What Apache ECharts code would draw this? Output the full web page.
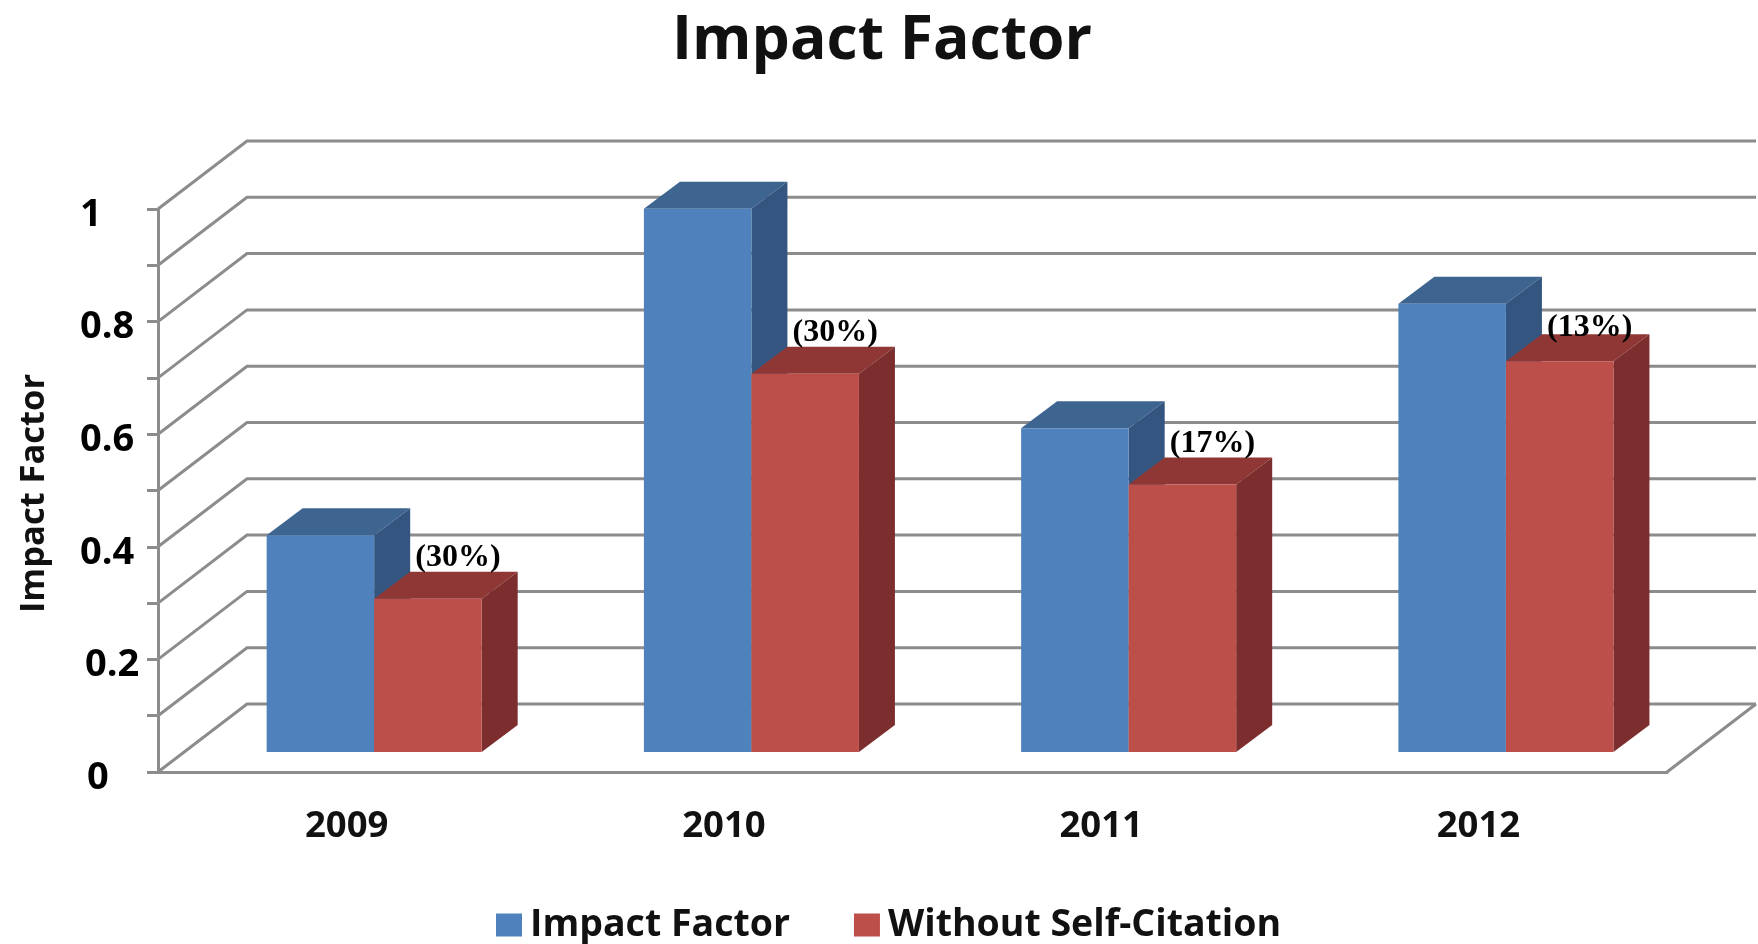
<!DOCTYPE html>
<html>
<head>
<meta charset="utf-8">
<title>Impact Factor</title>
<script src="https://cdn.jsdelivr.net/npm/echarts@6/dist/echarts.min.js"></script>
<style>
  html, body { margin: 0; padding: 0; background: #fff; }
  #chart { width: 1758px; height: 944px; }
</style>
</head>
<body>
<div id="chart"></div>
<script>
const years = ["2009", "2010", "2011", "2012"];
const impactFactor = [0.385, 0.965, 0.575, 0.796];
const withoutSelfCitation = [0.272, 0.672, 0.475, 0.694];
const dropLabels = ["(30%)", "(30%)", "(17%)", "(13%)"];
const gridTicks = [0, 0.1, 0.2, 0.3, 0.4, 0.5, 0.6, 0.7, 0.8, 0.9, 1];
const labelledTicks = [0, 0.2, 0.4, 0.6, 0.8, 1];

const FONT = '"Open Sans", sans-serif';
const LINE = "#8c8c8c";
// 3d look: how far the walls go back, and how the bars sit on the floor
const WALL_DX = 89;
const WALL_DY = -68;
const BAR_DX = 36;
const BAR_DY = -27;
const BAR_LIFT = 20;
const BAR_WIDTH = 0.285; // share of a category
const BAR_SHIFT = 0.073; // pair is not centered on the category
const DROP_LABEL_DY = [-41, -41, -41, -34]; // last one sits lower in the original

const BLUE = { front: "#4f81bd", top: "#3e6490", side: "#33557f" };
const RED = { front: "#bd4f4b", top: "#8f3735", side: "#7c2e2e" };

// back wall + left wall line for one tick
function renderWallLine(params, api) {
  const sys = params.coordSys;
  const y = api.coord([0, api.value(0)])[1];
  return {
    type: "polyline",
    shape: {
      points: [
        [sys.x, y],
        [sys.x + WALL_DX, y + WALL_DY],
        [sys.x + sys.width + WALL_DX, y + WALL_DY],
      ],
    },
    style: { stroke: LINE, lineWidth: 3, fill: null },
    silent: true,
  };
}

// floor right edge
function renderFloorEdge(params) {
  const sys = params.coordSys;
  const y = sys.y + sys.height;
  return {
    type: "line",
    shape: { x1: sys.x + sys.width, y1: y, x2: sys.x + sys.width + WALL_DX, y2: y + WALL_DY },
    style: { stroke: LINE, lineWidth: 3 },
    silent: true,
  };
}

function makeBarRenderer(faces, slot, labels) {
  return function (params, api) {
    const cat = api.value(0);
    const top = api.coord([cat, api.value(1)]);
    const base = api.coord([cat, 0]);
    const band = api.size([1, 0])[0];
    const w = band * BAR_WIDTH;
    const x0 = base[0] + band * BAR_SHIFT + (slot - 1) * w;
    const x1 = x0 + w;
    const y0 = top[1] - BAR_LIFT;
    const y1 = base[1] - BAR_LIFT;
    const children = [
      {
        type: "polygon",
        shape: { points: [[x0, y0], [x0 + BAR_DX, y0 + BAR_DY], [x1 + BAR_DX, y0 + BAR_DY], [x1, y0]] },
        style: { fill: faces.top },
      },
      {
        type: "polygon",
        shape: { points: [[x1, y0], [x1 + BAR_DX, y0 + BAR_DY], [x1 + BAR_DX, y1 + BAR_DY], [x1, y1]] },
        style: { fill: faces.side },
      },
      {
        type: "rect",
        shape: { x: x0, y: y0, width: w, height: y1 - y0 },
        style: { fill: faces.front },
      },
    ];
    if (labels) {
      children.push({
        type: "text",
        style: {
          text: labels[params.dataIndex],
          x: x0 + w / 2 + 30,
          y: y0 + DROP_LABEL_DY[params.dataIndex],
          align: "center",
          verticalAlign: "middle",
          fill: "#000",
          font: 'bold 32px "Liberation Serif", serif',
        },
        z2: 10,
      });
    }
    return { type: "group", children };
  };
}

const chart = echarts.init(document.getElementById("chart"), null, { renderer: "canvas" });
chart.setOption({
  animation: false,
  backgroundColor: "#fff",
  title: {
    text: "Impact Factor",
    left: 877,
    top: 37,
    textAlign: "center",
    textVerticalAlign: "middle",
    textStyle: { fontFamily: FONT, fontSize: 60.6, fontWeight: "bold", color: "#111" },
  },
  legend: {
    left: 491,
    top: 901,
    icon: "rect",
    itemWidth: 26,
    itemHeight: 23,
    itemGap: 64,
    data: ["Impact Factor", "Without Self-Citation"],
    textStyle: { fontFamily: FONT, fontSize: 37.5, fontWeight: "bold", color: "#111", padding: [0, 0, 0, 3] },
  },
  grid: { left: 158, right: 91, top: 209, bottom: 172 },
  xAxis: {
    type: "category",
    data: years,
    axisLine: { show: true, lineStyle: { color: LINE, width: 3 } },
    axisTick: { show: false },
    axisLabel: { color: "#111", fontFamily: FONT, fontSize: 36.5, fontWeight: "bold", margin: 36 },
  },
  yAxis: {
    type: "value",
    min: 0,
    max: 1,
    interval: 0.1,
    name: "Impact Factor",
    nameLocation: "middle",
    nameGap: 106,
    nameTextStyle: { color: "#111", fontFamily: FONT, fontSize: 34.5, fontWeight: "bold", padding: [0, 6, 0, 0] },
    axisLine: { show: true, lineStyle: { color: LINE, width: 3 } },
    axisTick: { show: true, length: 11, lineStyle: { color: LINE, width: 3 } },
    splitLine: { show: false },
    axisLabel: {
      color: "#000",
      fontFamily: FONT,
      fontSize: 38,
      fontWeight: "bold",
      align: "left",
      margin: 78,
      padding: [12, 0, 0, 0],
      formatter: (v) => {
        const t = Number(v.toFixed(1));
        if (!labelledTicks.includes(t)) return "";
        // "0" and "0.2" start a little further right in the original
        if (t === 0) return "{zero|0}";
        if (t === 0.2) return "{two|0.2}";
        return String(t);
      },
      rich: {
        zero: { padding: [0, 0, 0, 7] },
        two: { padding: [0, 0, 0, 5] },
      },
    },
  },
  series: [
    {
      name: "walls",
      type: "custom",
      data: gridTicks,
      encode: { y: 0 },
      renderItem: renderWallLine,
      silent: true,
      clip: false,
      z: 1,
    },
    {
      name: "floor",
      type: "custom",
      data: [0],
      encode: { y: 0 },
      renderItem: renderFloorEdge,
      silent: true,
      clip: false,
      z: 1,
    },
    {
      name: "Impact Factor",
      type: "custom",
      data: impactFactor.map((v, i) => [i, v]),
      encode: { x: 0, y: 1 },
      itemStyle: { color: BLUE.front },
      renderItem: makeBarRenderer(BLUE, 0),
      clip: false,
      z: 3,
    },
    {
      name: "Without Self-Citation",
      type: "custom",
      data: withoutSelfCitation.map((v, i) => [i, v]),
      encode: { x: 0, y: 1 },
      itemStyle: { color: RED.front },
      renderItem: makeBarRenderer(RED, 1, dropLabels),
      clip: false,
      z: 4,
    },
  ],
});
</script>
</body>
</html>
